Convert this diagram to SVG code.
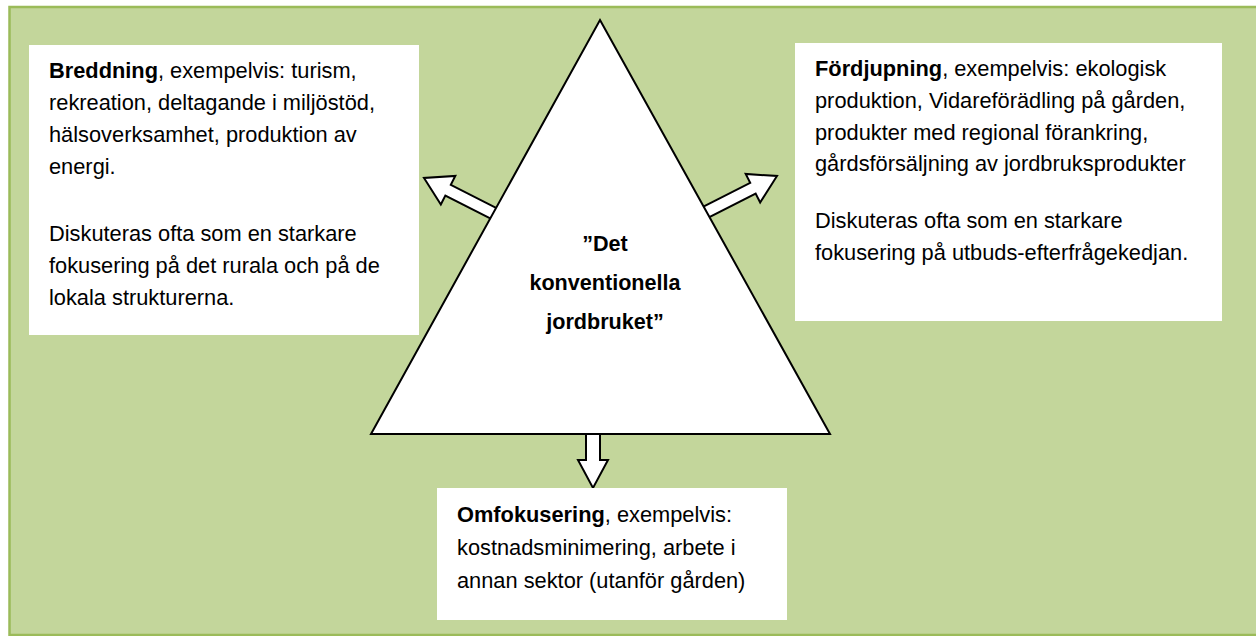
<svg xmlns="http://www.w3.org/2000/svg" width="1256" height="636" viewBox="0 0 1256 636">
<style>
.bg{fill:#c3d69b;stroke:#9bbb59;stroke-width:2.5}
.box{fill:#ffffff;stroke:none}
.t{font-family:"Liberation Sans",Arial,sans-serif;font-size:21.8px;fill:#000}
.b{font-weight:bold}
.ct{font-family:"Liberation Sans",Arial,sans-serif;font-size:21.6px;font-weight:bold;fill:#000;text-anchor:middle}
.arrow{fill:#ffffff;stroke:#000;stroke-width:2;stroke-linejoin:miter}
.tri{fill:#ffffff;stroke:#000;stroke-width:2}
</style>
<defs>
<polygon id="blk" points="-85,-6 -27,-6 -27,-16 0,0 -27,16 -27,6 -85,6"/>
</defs>
<rect class="bg" x="9.5" y="7" width="1252" height="628"/>
<g id="connectors">
<use href="#blk" class="arrow" transform="translate(424,178) rotate(206.9)"/>
<use href="#blk" class="arrow" transform="translate(777,176) rotate(-26.9)"/>
<polygon class="arrow" points="586,425 600,425 600,460 608,460 593,488 578,460 586,460"/>
</g>
<g id="center">
<polygon class="tri" points="600,20 830,434 371,434"/>
<text class="ct" x="605" y="251">”Det</text>
<text class="ct" x="605" y="290">konventionella</text>
<text class="ct" x="605" y="329">jordbruket”</text>
</g>
<g id="breddning">
<rect class="box" x="29" y="45" width="390" height="290"/>
<text class="t" x="49" y="78"><tspan class="b">Breddning</tspan>, exempelvis: turism,</text>
<text class="t" x="49" y="110">rekreation, deltagande i miljöstöd,</text>
<text class="t" x="49" y="142">hälsoverksamhet, produktion av</text>
<text class="t" x="49" y="174">energi.</text>
<text class="t" x="49" y="241">Diskuteras ofta som en starkare</text>
<text class="t" x="49" y="273">fokusering på det rurala och på de</text>
<text class="t" x="49" y="305">lokala strukturerna.</text>
</g>
<g id="fordjupning">
<rect class="box" x="795" y="43" width="427" height="278"/>
<text class="t" x="815" y="76"><tspan class="b">Fördjupning</tspan>, exempelvis: ekologisk</text>
<text class="t" x="815" y="108">produktion, Vidareförädling på gården,</text>
<text class="t" x="815" y="140">produkter med regional förankring,</text>
<text class="t" x="815" y="171">gårdsförsäljning av jordbruksprodukter</text>
<text class="t" x="815" y="228">Diskuteras ofta som en starkare</text>
<text class="t" x="815" y="260">fokusering på utbuds-efterfrågekedjan.</text>
</g>
<g id="omfokusering">
<rect class="box" x="437" y="488" width="350" height="132"/>
<text class="t" x="457" y="522"><tspan class="b">Omfokusering</tspan>, exempelvis:</text>
<text class="t" x="457" y="555">kostnadsminimering, arbete i</text>
<text class="t" x="457" y="588">annan sektor (utanför gården)</text>
</g>
</svg>
